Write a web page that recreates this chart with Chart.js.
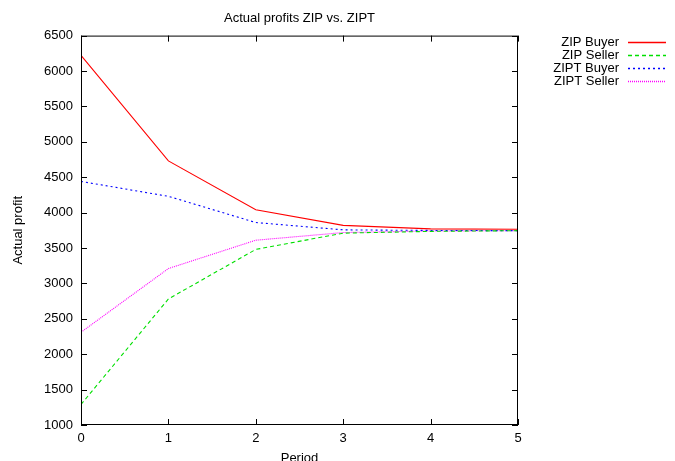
<!DOCTYPE html>
<html>
<head>
<meta charset="utf-8">
<script src="https://cdn.jsdelivr.net/npm/chart.js@4"></script>
<style>
  html, body { margin: 0; padding: 0; background: #fff; }
  #wrap { width: 675px; height: 461px; }
</style>
</head>
<body>
<div id="wrap"><canvas id="chart" width="675" height="461"></canvas></div>
<script>
// data
const periods = [0, 1, 2, 3, 4, 5];
const zipBuyer = [6220, 4730, 4040, 3820, 3770, 3765];
const zipSeller = [1290, 2780, 3480, 3710, 3735, 3745];
const ziptBuyer = [4440, 4230, 3860, 3756, 3748, 3745];
const ziptSeller = [2310, 3210, 3610, 3718, 3740, 3745];

const seriesNames = ['ZIP Buyer', 'ZIP Seller', 'ZIPT Buyer', 'ZIPT Seller'];
const seriesColors = ['#ff0000', '#00e000', '#0000ff', '#ff00ff'];
const seriesDash = [[], [4, 3], [2, 3], [1, 1]];
const yTicks = [1000, 1500, 2000, 2500, 3000, 3500, 4000, 4500, 5000, 5500, 6000, 6500];

const FONT = 'Liberation Sans, Arial, Helvetica, sans-serif';

function toPoints(values) {
    return periods.map((p, i) => ({ x: p, y: values[i] }));
}

// gnuplot style box with inward ticks + legend at the right
const gnuplotBox = {
    id: 'gnuplotBox',
    afterDraw(chart) {
        const ctx = chart.ctx;
        const area = chart.chartArea;
        const xs = chart.scales.x;
        const ys = chart.scales.y;
        const tick = 6;

        ctx.save();
        ctx.setLineDash([]);
        ctx.strokeStyle = '#000';
        ctx.lineWidth = 1;
        ctx.strokeRect(area.left + 0.5, area.top + 0.5, area.right - area.left - 1, area.bottom - area.top - 1);

        ctx.beginPath();
        periods.forEach(p => {
            const px = Math.round(xs.getPixelForValue(p)) + 0.5;
            ctx.moveTo(px, area.bottom);
            ctx.lineTo(px, area.bottom - tick);
            ctx.moveTo(px, area.top);
            ctx.lineTo(px, area.top + tick);
        });
        yTicks.forEach(v => {
            const py = Math.round(ys.getPixelForValue(v)) + 0.5;
            ctx.moveTo(area.left, py);
            ctx.lineTo(area.left + tick, py);
            ctx.moveTo(area.right, py);
            ctx.lineTo(area.right - tick, py);
        });
        ctx.stroke();

        // legend
        ctx.font = '13px ' + FONT;
        ctx.textAlign = 'right';
        ctx.textBaseline = 'middle';
        seriesNames.forEach((name, i) => {
            const y = 42.5 + i * 13;
            ctx.fillStyle = '#000';
            ctx.fillText(name, 619, y);
            ctx.beginPath();
            ctx.strokeStyle = seriesColors[i];
            ctx.lineWidth = 1.4;
            ctx.setLineDash(seriesDash[i]);
            ctx.moveTo(628, y);
            ctx.lineTo(666, y);
            ctx.stroke();
        });
        ctx.restore();
    }
};

const seriesValues = [zipBuyer, zipSeller, ziptBuyer, ziptSeller];

const ctx = document.getElementById('chart').getContext('2d');
new Chart(ctx, {
    type: 'line',
    data: {
        datasets: seriesValues.map((vals, i) => ({
            label: seriesNames[i],
            data: toPoints(vals),
            borderColor: seriesColors[i],
            borderDash: seriesDash[i],
            borderWidth: 1.1,
            pointRadius: 0,
            tension: 0,
            fill: false
        }))
    },
    options: {
        responsive: false,
        animation: false,
        layout: { padding: { left: 0, right: 157, top: 0, bottom: 0 } },
        plugins: {
            legend: { display: false },
            tooltip: { enabled: false },
            title: {
                display: true,
                fullSize: false,
                text: 'Actual profits ZIP vs. ZIPT',
                color: '#000',
                font: { family: FONT, size: 13, weight: 'normal' },
                padding: { top: 11, bottom: 9 }
            }
        },
        scales: {
            x: {
                type: 'linear',
                min: 0,
                max: 5,
                afterFit: s => { s.height = 36; },
                grid: { display: false, drawTicks: false },
                border: { display: false },
                ticks: {
                    stepSize: 1,
                    padding: 6,
                    color: '#000',
                    font: { family: FONT, size: 13 },
                    maxRotation: 0
                },
                title: {
                    display: true,
                    text: 'Period',
                    color: '#000',
                    font: { family: FONT, size: 13, lineHeight: 1 },
                    padding: { top: 0, bottom: -3.5 }
                }
            },
            y: {
                min: 1000,
                max: 6500,
                afterFit: s => { s.width = 81; },
                afterBuildTicks: s => { s.ticks = yTicks.map(v => ({ value: v })); },
                grid: { display: false, drawTicks: false },
                border: { display: false },
                ticks: {
                    padding: 8,
                    color: '#000',
                    font: { family: FONT, size: 13 },
                    callback: v => String(v)
                },
                title: {
                    display: true,
                    text: 'Actual profit',
                    color: '#000',
                    font: { family: FONT, size: 13 },
                    padding: { top: 11, bottom: 0 }
                }
            }
        }
    },
    plugins: [gnuplotBox]
});
</script>
</body>
</html>
